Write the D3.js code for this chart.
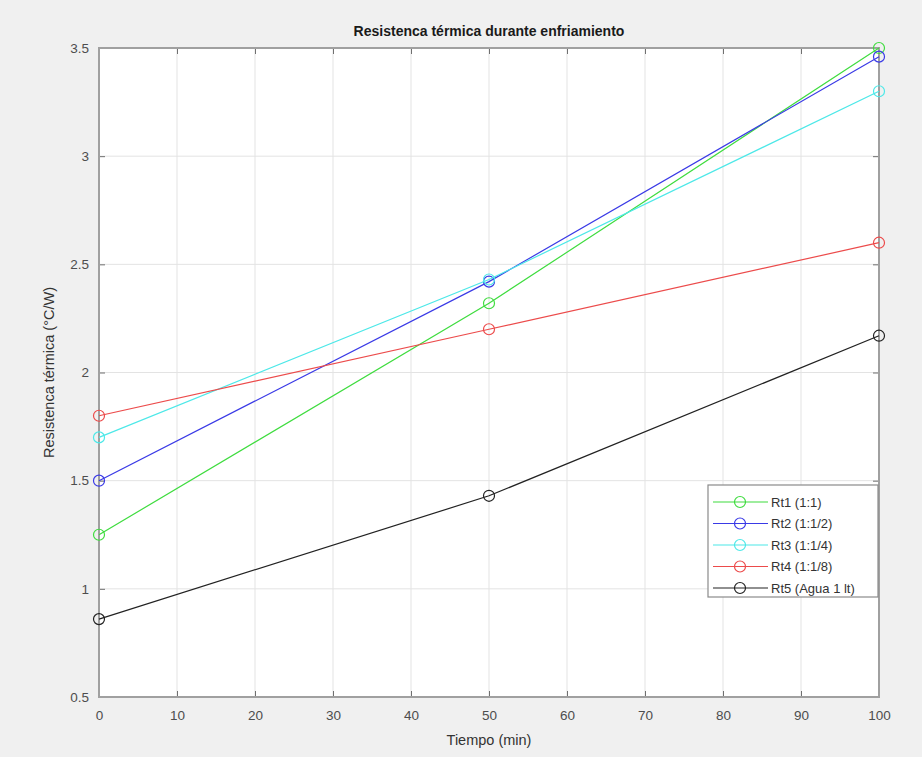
<!DOCTYPE html>
<html>
<head>
<meta charset="utf-8">
<script src="https://cdn.jsdelivr.net/npm/d3@7"></script>
<style>
  body { margin: 0; background: #f0f0f0; }
  svg { display: block; font-family: "Liberation Sans", Arial, sans-serif; }
  .tick text { fill: #4d4d4d; font-size: 13.5px; }
</style>
</head>
<body>
<div id="chart"></div>
<script>
// data
const tiempo = [0, 50, 100];
const rt1 = [1.25, 2.32, 3.50];
const rt2 = [1.50, 2.42, 3.46];
const rt3 = [1.70, 2.43, 3.30];
const rt4 = [1.80, 2.20, 2.60];
const rt5 = [0.86, 1.43, 2.17];
const seriesNames = ["Rt1 (1:1)", "Rt2 (1:1/2)", "Rt3 (1:1/4)", "Rt4 (1:1/8)", "Rt5 (Agua 1 lt)"];
const seriesColors = ["#3fdc3f", "#3a3ae6", "#4de8e8", "#ec4b4b", "#222222"];
const xTicks = [0, 10, 20, 30, 40, 50, 60, 70, 80, 90, 100];
const yTicks = [0.5, 1, 1.5, 2, 2.5, 3, 3.5];

const series = [rt1, rt2, rt3, rt4, rt5].map((vals, i) => ({
    name: seriesNames[i],
    color: seriesColors[i],
    values: vals.map((v, j) => ({ x: tiempo[j], y: v }))
}));

const W = 922, H = 757;
const margin = { top: 48, right: 43, bottom: 60, left: 99 };
const width = W - margin.left - margin.right;
const height = H - margin.top - margin.bottom;

const svg = d3.select("#chart").append("svg")
    .attr("width", W)
    .attr("height", H);

const g = svg.append("g")
    .attr("transform", "translate(" + margin.left + "," + margin.top + ")");

const xScale = d3.scaleLinear().domain([0, 100]).range([0, width]);
const yScale = d3.scaleLinear().domain([0.5, 3.5]).range([height, 0]);

g.append("rect")
    .attr("width", width)
    .attr("height", height)
    .attr("fill", "#ffffff");

// grid
g.append("g").selectAll("line")
    .data(xTicks)
    .enter().append("line")
    .attr("x1", d => xScale(d)).attr("x2", d => xScale(d))
    .attr("y1", 0).attr("y2", height)
    .attr("stroke", "#e3e3e3").attr("stroke-width", 1);

g.append("g").selectAll("line")
    .data(yTicks)
    .enter().append("line")
    .attr("y1", d => yScale(d)).attr("y2", d => yScale(d))
    .attr("x1", 0).attr("x2", width)
    .attr("stroke", "#e3e3e3").attr("stroke-width", 1);

// axes (ticks inside, like matlab)
const axisColor = "#a0a0a0";
function styleAxis(sel) {
    sel.select(".domain").remove();
    sel.selectAll(".tick line").attr("stroke", "#707070");
}

g.append("g")
    .attr("transform", "translate(0," + height + ")")
    .call(d3.axisBottom(xScale).tickValues(xTicks).tickSize(-6).tickPadding(13))
    .call(styleAxis);

g.append("g")
    .call(d3.axisTop(xScale).tickValues(xTicks).tickSize(-6).tickFormat(""))
    .call(styleAxis);

g.append("g")
    .call(d3.axisLeft(yScale).tickValues(yTicks).tickSize(-6).tickPadding(10).tickFormat(d3.format("")))
    .call(styleAxis);

g.append("g")
    .attr("transform", "translate(" + width + ",0)")
    .call(d3.axisRight(yScale).tickValues(yTicks).tickSize(-6).tickFormat(""))
    .call(styleAxis);

g.append("rect")
    .attr("width", width)
    .attr("height", height)
    .attr("fill", "none")
    .attr("stroke", axisColor)
    .attr("stroke-width", 2);

// lines
const line = d3.line()
    .x(d => xScale(d.x))
    .y(d => yScale(d.y));

series.forEach(s => {
    g.append("path")
        .datum(s.values)
        .attr("d", line)
        .attr("fill", "none")
        .attr("stroke", s.color)
        .attr("stroke-width", 1.2);

    g.selectAll(null)
        .data(s.values)
        .enter().append("circle")
        .attr("cx", d => xScale(d.x))
        .attr("cy", d => yScale(d.y))
        .attr("r", 5.5)
        .attr("fill", "none")
        .attr("stroke", s.color)
        .attr("stroke-width", 1.2);
});

// titles
svg.append("text")
    .attr("x", margin.left + width / 2)
    .attr("y", 36)
    .attr("text-anchor", "middle")
    .attr("font-size", "14px")
    .attr("font-weight", "bold")
    .attr("fill", "#1a1a1a")
    .text("Resistenca térmica durante enfriamiento");

svg.append("text")
    .attr("x", margin.left + width / 2)
    .attr("y", 745)
    .attr("text-anchor", "middle")
    .attr("font-size", "14.5px")
    .attr("fill", "#333")
    .text("Tiempo (min)");

svg.append("text")
    .attr("transform", "translate(54," + (margin.top + height / 2) + ") rotate(-90)")
    .attr("text-anchor", "middle")
    .attr("font-size", "14.5px")
    .attr("fill", "#333")
    .text("Resistenca térmica (°C/W)");

// legend
const legend = svg.append("g").attr("transform", "translate(708,485)");
legend.append("rect")
    .attr("width", 170)
    .attr("height", 112)
    .attr("fill", "#ffffff")
    .attr("stroke", "#8a8a8a")
    .attr("stroke-width", 1.2);

series.forEach((s, i) => {
    const ly = 17 + i * 21.5;
    legend.append("line")
        .attr("x1", 5).attr("x2", 60)
        .attr("y1", ly).attr("y2", ly)
        .attr("stroke", s.color).attr("stroke-width", 1.2);
    legend.append("circle")
        .attr("cx", 32).attr("cy", ly).attr("r", 5.5)
        .attr("fill", "none").attr("stroke", s.color).attr("stroke-width", 1.2);
    legend.append("text")
        .attr("x", 63).attr("y", ly + 4.5)
        .attr("font-size", "13px")
        .attr("fill", "#333")
        .text(s.name);
});
</script>
</body>
</html>
